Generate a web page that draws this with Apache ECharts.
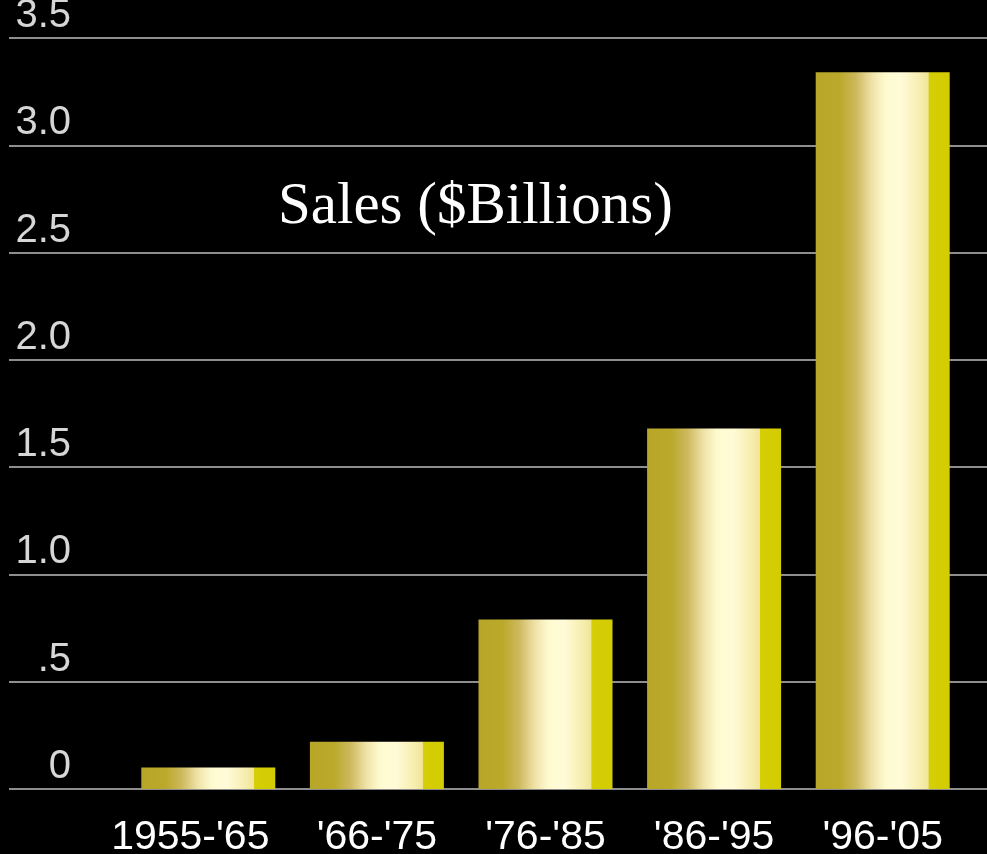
<!DOCTYPE html>
<html>
<head>
<meta charset="utf-8">
<script src="https://cdn.jsdelivr.net/npm/echarts@6/dist/echarts.min.js"></script>
<style>
  html, body { margin: 0; padding: 0; background: #000; }
  #chart { width: 987px; height: 854px; }
</style>
</head>
<body>
<div id="chart"></div>
<script>
// Sales by decade, in billions of dollars
const periods = ["1955-'65", "'66-'75", "'76-'85", "'86-'95", "'96-'05"];
const sales = [0.10, 0.22, 0.79, 1.68, 3.34];
const yTicks = [0, 0.5, 1.0, 1.5, 2.0, 2.5, 3.0, 3.5];
const yTickLabels = ["0", ".5", "1.0", "1.5", "2.0", "2.5", "3.0", "3.5"];

const Y_MIN = 0, Y_MAX = 3.5, Y_STEP = 0.5;

const chart = echarts.init(document.getElementById('chart'), null, { renderer: 'canvas' });

// Metallic gold fill running left to right across each bar
const gold = new echarts.graphic.LinearGradient(0, 0, 1, 0, [
  { offset: 0.00, color: '#b8a628' },
  { offset: 0.18, color: '#bba92c' },
  { offset: 0.30, color: '#cdb85c' },
  { offset: 0.42, color: '#efe2a8' },
  { offset: 0.52, color: '#fefacf' },
  { offset: 0.64, color: '#fffbd8' },
  { offset: 0.76, color: '#f8efb4' },
  { offset: 0.84, color: '#f1e599' },
  { offset: 0.845, color: '#d6ce06' },
  { offset: 1.00, color: '#d4cc02' }
]);

function tickLabel(v) {
  const i = yTicks.findIndex(t => Math.abs(t - v) < 1e-9);
  return i >= 0 ? yTickLabels[i] : '';
}

// first category label sits a little left of its bar
const categoryData = periods.map((p, i) =>
  i === 0 ? { value: p, textStyle: { padding: [0, 36, 0, 0] } } : p);

chart.setOption({
  backgroundColor: '#000',
  animation: false,
  title: {
    text: 'Sales ($Billions)',
    left: 278,
    top: 178,
    padding: 0,
    textStyle: {
      fontFamily: '"Liberation Serif", "DejaVu Serif", serif',
      fontSize: 59,
      fontWeight: 'normal',
      color: '#ffffff'
    }
  },
  grid: [
    // full-width grid carrying the value axis and its rules
    { left: 9, right: 0, top: 38, bottom: 65, outerBoundsMode: 'none' },
    // grid for the bars
    { left: 124, right: 20, top: 38, bottom: 65, outerBoundsMode: 'none' }
  ],
  xAxis: [
    { gridIndex: 0, type: 'value', min: 0, max: 1, show: false },
    {
      gridIndex: 1,
      type: 'category',
      data: categoryData,
      axisLine: { show: false },
      axisTick: { show: false },
      axisLabel: {
        interval: 0,
        hideOverlap: false,
        margin: 28,
        color: '#ffffff',
        fontFamily: '"Liberation Sans", Arial, sans-serif',
        fontSize: 41
      }
    }
  ],
  yAxis: [
    {
      gridIndex: 0,
      type: 'value',
      min: Y_MIN,
      max: Y_MAX,
      interval: Y_STEP,
      axisLine: { show: false },
      axisTick: { show: false },
      splitLine: { show: true, lineStyle: { color: '#8e8e8e', width: 2 } },
      axisLabel: {
        inside: true,
        margin: 62,
        align: 'right',
        verticalAlign: 'bottom',
        padding: [0, 0, 2, 0],
        color: '#d6d6d6',
        fontFamily: '"Liberation Sans", Arial, sans-serif',
        fontSize: 40,
        formatter: tickLabel
      }
    },
    {
      gridIndex: 1,
      type: 'value',
      min: Y_MIN,
      max: Y_MAX,
      interval: Y_STEP,
      show: false
    }
  ],
  series: [
    {
      type: 'bar',
      xAxisIndex: 1,
      yAxisIndex: 1,
      data: sales,
      barWidth: 134,
      itemStyle: { color: gold }
    }
  ]
});
</script>
</body>
</html>
